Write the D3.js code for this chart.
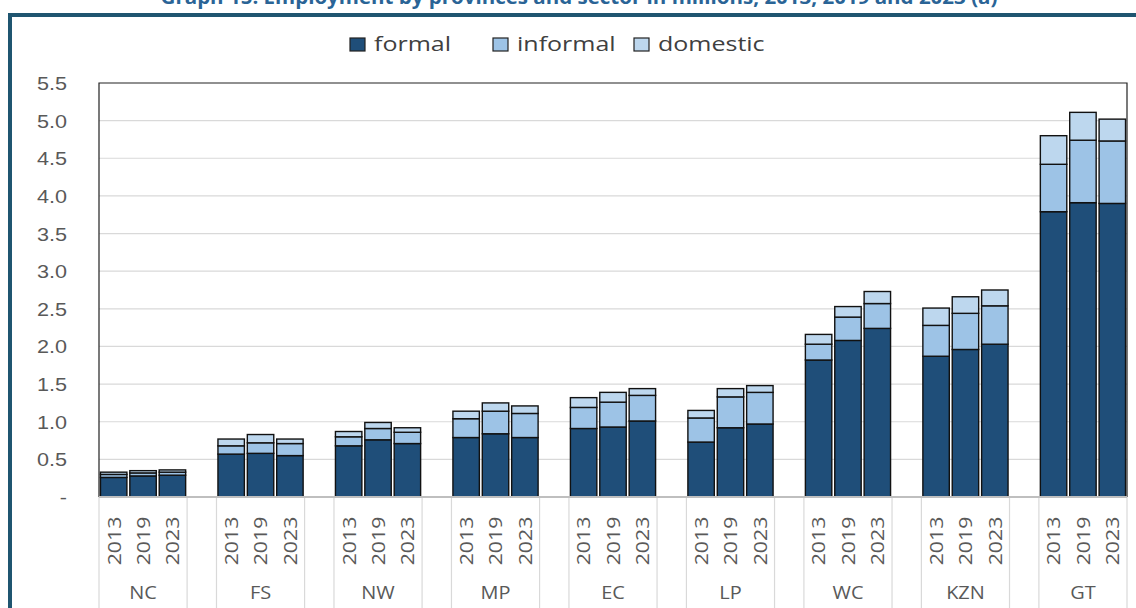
<!DOCTYPE html>
<html>
<head>
<meta charset="utf-8">
<script src="https://cdn.jsdelivr.net/npm/d3@7"></script>
<style>
  html, body { margin: 0; padding: 0; background: #fff; }
  svg { display: block; font-family: "Open Sans", sans-serif; }
</style>
</head>
<body>
<svg id="chart" width="1136" height="608"></svg>
<script>
// Employment by province and sector, millions
const provinces = ["NC", "FS", "NW", "MP", "EC", "LP", "WC", "KZN", "GT"];
const years = ["2013", "2019", "2023"];
const sectors = ["formal", "informal", "domestic"];
const formal = [
  [0.26, 0.28, 0.29], [0.57, 0.58, 0.55], [0.68, 0.76, 0.71],
  [0.79, 0.84, 0.79], [0.91, 0.93, 1.01], [0.73, 0.92, 0.97],
  [1.82, 2.08, 2.24], [1.87, 1.96, 2.03], [3.79, 3.91, 3.90]
];
const informal = [
  [0.04, 0.04, 0.04], [0.11, 0.14, 0.16], [0.12, 0.15, 0.15],
  [0.25, 0.30, 0.32], [0.28, 0.33, 0.34], [0.32, 0.41, 0.42],
  [0.21, 0.31, 0.33], [0.41, 0.48, 0.51], [0.63, 0.83, 0.83]
];
const domestic = [
  [0.03, 0.03, 0.03], [0.09, 0.11, 0.06], [0.07, 0.08, 0.06],
  [0.10, 0.11, 0.10], [0.13, 0.13, 0.09], [0.10, 0.11, 0.09],
  [0.13, 0.14, 0.16], [0.23, 0.22, 0.21], [0.38, 0.37, 0.29]
];
const yTicks = [0, 0.5, 1.0, 1.5, 2.0, 2.5, 3.0, 3.5, 4.0, 4.5, 5.0, 5.5];
const titleText = "Graph 15: Employment by provinces and sector in millions, 2013, 2019 and 2023 (a)";

const colors = { formal: "#1F4E79", informal: "#9DC3E6", domestic: "#BDD7EE" };

const svg = d3.select("#chart");
const plot = { left: 99, right: 1127, top: 83, bottom: 497 };

// slot keys: three years per province with an empty slot between provinces
const slots = [];
provinces.forEach((p, i) => {
  years.forEach(y => slots.push(p + "|" + y));
  if (i < provinces.length - 1) slots.push("gap" + i);
});

const rows = [];
provinces.forEach((p, i) => {
  years.forEach((y, j) => {
    rows.push({ key: p + "|" + y, province: p, year: y,
      formal: formal[i][j], informal: informal[i][j], domestic: domestic[i][j] });
  });
});

const x = d3.scaleBand().domain(slots).range([plot.left, plot.right])
  .paddingInner(0.1).paddingOuter(0.05);
const step = x.step();
const slotStart = k => x(k) - step * 0.05;
const y = d3.scaleLinear().domain([0, 5.5]).range([plot.bottom, plot.top]);

// horizontally stretched text helper
function stretchText(g, tx, ty, str, opts) {
  const t = g.append("text")
    .attr("transform", `translate(${tx},${ty})` + (opts.rotate ? ` rotate(${opts.rotate})` : "") + ` scale(${opts.sx || 1},1)`)
    .attr("font-size", opts.size)
    .attr("fill", opts.fill || "#595959")
    .attr("text-anchor", opts.anchor || "start")
    .text(str);
  if (opts.weight) t.attr("font-weight", opts.weight);
  if (opts.dy) t.attr("dy", opts.dy);
  return t;
}

// title (partly above the frame)
stretchText(svg, 579, 4, titleText, { size: 19, weight: "bold", fill: "#2A6496", anchor: "middle", sx: 1.08 });

// frame: left and top edges
svg.append("path")
  .attr("d", "M10,608 L10,15 L1136,15")
  .attr("fill", "none").attr("stroke", "#1F5570").attr("stroke-width", 4);

// gridlines
svg.append("g").selectAll("line").data(yTicks.filter(v => v > 0 && v < 5.5)).join("line")
  .attr("x1", plot.left).attr("x2", plot.right)
  .attr("y1", d => y(d)).attr("y2", d => y(d))
  .attr("stroke", "#D9D9D9").attr("stroke-width", 1.2);

// y axis labels
const yAxis = d3.axisLeft(y).tickValues(yTicks)
  .tickFormat(d => d === 0 ? "-" : d3.format(".1f")(d)).tickSize(0).tickPadding(0);
const yg = svg.append("g").attr("transform", `translate(${plot.left},0)`).call(yAxis);
yg.select(".domain").remove();
yg.selectAll(".tick text").remove();
yg.selectAll(".tick").each(function(d) {
  stretchText(d3.select(this), -32, 0, d === 0 ? "-" : d3.format(".1f")(d),
    { size: 18, anchor: "end", sx: 1.2, dy: "0.36em" });
});

// category separators below the axis
const boundaries = [];
provinces.forEach((p, i) => {
  const s = slotStart(p + "|2013");
  boundaries.push(s, s + 3 * step);
});
svg.append("g").selectAll("line").data(boundaries).join("line")
  .attr("x1", d => d).attr("x2", d => d)
  .attr("y1", plot.bottom).attr("y2", 608)
  .attr("stroke", "#D9D9D9").attr("stroke-width", 1.2);

// stacked bars
const stacked = d3.stack().keys(sectors)(rows);
const barG = svg.append("g");
stacked.forEach(layer => {
  barG.append("g").selectAll("rect").data(layer).join("rect")
    .attr("x", d => x(d.data.key))
    .attr("width", x.bandwidth())
    .attr("y", d => y(d[1]))
    .attr("height", d => y(d[0]) - y(d[1]))
    .attr("fill", colors[layer.key])
    .attr("stroke", "#111").attr("stroke-width", 1.4);
});

// plot border and category axis line
svg.append("path")
  .attr("d", `M${plot.left},${plot.bottom} L${plot.left},${plot.top} L${plot.right},${plot.top} L${plot.right},${plot.bottom}`)
  .attr("fill", "none").attr("stroke", "#222").attr("stroke-width", 1.2);
svg.append("line")
  .attr("x1", plot.left).attr("x2", plot.right)
  .attr("y1", plot.bottom).attr("y2", plot.bottom)
  .attr("stroke", "#BFBFBF").attr("stroke-width", 1.8);

// year labels (rotated)
const xl = svg.append("g");
rows.forEach(r => {
  stretchText(xl, x(r.key) + x.bandwidth() / 2, 541, r.year,
    { size: 19, anchor: "middle", rotate: -90, sx: 1.12, dy: "0.36em" });
});
// province labels
provinces.forEach(p => {
  const cx = slotStart(p + "|2013") + 1.5 * step;
  stretchText(xl, cx, 599, p, { size: 19, anchor: "middle", sx: 1.05 });
});

// legend
const legend = svg.append("g");
const legendPos = [{ k: "formal", sq: 350, tx: 374 }, { k: "informal", sq: 493, tx: 517 }, { k: "domestic", sq: 634, tx: 658 }];
legendPos.forEach(l => {
  legend.append("rect").attr("x", l.sq).attr("y", 38).attr("width", 15).attr("height", 13)
    .attr("fill", colors[l.k]).attr("stroke", "#222").attr("stroke-width", 1.2);
  stretchText(legend, l.tx, 51, l.k, { size: 20, fill: "#404040", sx: 1.25 });
});
</script>
</body>
</html>
